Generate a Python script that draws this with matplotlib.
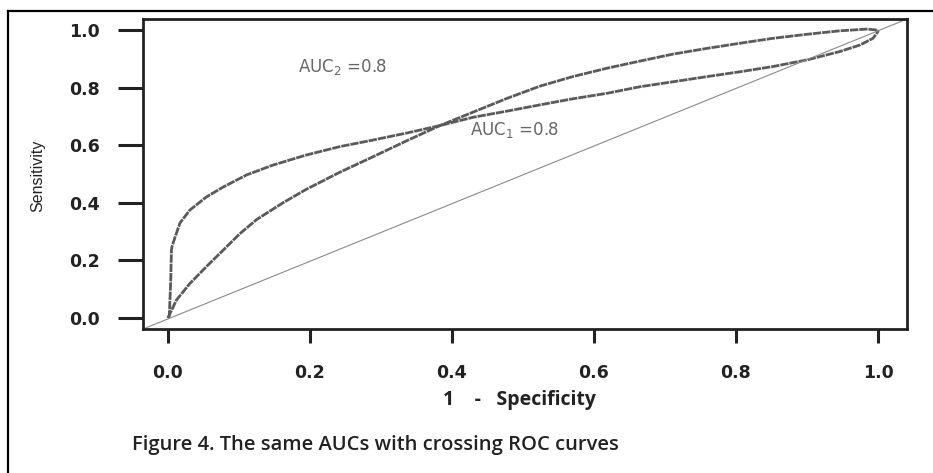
import numpy as np
import matplotlib
matplotlib.use("Agg")
import matplotlib.pyplot as plt
from matplotlib.lines import Line2D

plt.rcParams['mathtext.default'] = 'regular'

# ROC curve 1 (steep start, flatter later)
fpr1 = [0.0, 0.002, 0.004, 0.005, 0.006, 0.01, 0.017, 0.031, 0.054, 0.078, 0.111, 0.148,
        0.195, 0.242, 0.289, 0.336, 0.383, 0.407, 0.43, 0.477, 0.524, 0.570, 0.618,
        0.665, 0.711, 0.759, 0.806, 0.852, 0.900, 0.946, 0.975, 0.993, 1.0, 1.0]
tpr1 = [0.0, 0.007, 0.13, 0.236, 0.25, 0.28, 0.33, 0.375, 0.42, 0.455, 0.497, 0.531,
        0.566, 0.595, 0.618, 0.642, 0.668, 0.683, 0.697, 0.718, 0.740, 0.761, 0.780,
        0.803, 0.820, 0.838, 0.855, 0.873, 0.896, 0.925, 0.948, 0.971, 0.994, 1.0]

# ROC curve 2 (gradual start, higher later)
fpr2 = [0.0, 0.012, 0.031, 0.054, 0.078, 0.101, 0.125, 0.162, 0.195, 0.242, 0.289,
        0.336, 0.383, 0.43, 0.477, 0.524, 0.570, 0.618, 0.665, 0.711, 0.759, 0.806,
        0.852, 0.900, 0.946, 0.984, 0.998, 1.0]
tpr2 = [0.0, 0.0625, 0.12, 0.178, 0.236, 0.292, 0.342, 0.400, 0.447, 0.506, 0.56,
        0.615, 0.668, 0.715, 0.762, 0.805, 0.838, 0.867, 0.892, 0.916, 0.936, 0.954,
        0.971, 0.985, 0.997, 1.003, 1.0, 1.0]

ticks = [0.0, 0.2, 0.4, 0.6, 0.8, 1.0]
tick_labels = ['0.0', '0.2', '0.4', '0.6', '0.8', '1.0']

fig = plt.figure(figsize=(9.33, 4.73), dpi=100)
ax = fig.add_axes([0.1533, 0.3044, 0.8189, 0.6554])

curve_kw = dict(color='#5a5a5a', linewidth=2.0, linestyle=(0, (3.0, 0.35)))
ax.plot(fpr1, tpr1, **curve_kw)
ax.plot(fpr2, tpr2, **curve_kw)
ax.plot([0, 1], [0, 1], transform=ax.transAxes, color='#8a8a8a', linewidth=0.8)

ax.text(0.183, 0.87, 'AUC$_2$ =0.8', fontsize=12, color='#666666',
        family='DejaVu Sans', va='center', ha='left')
ax.text(0.425, 0.653, 'AUC$_1$ =0.8', fontsize=12, color='#666666',
        family='DejaVu Sans', va='center', ha='left')

ax.set_xlim(-0.035, 1.041)
ax.set_ylim(-0.038, 1.038)
ax.set_xticks(ticks)
ax.set_xticklabels(tick_labels)
ax.set_yticks(ticks)
ax.set_yticklabels(tick_labels)

for s in ax.spines.values():
    s.set_linewidth(2.0)
    s.set_color('#222222')

ax.tick_params(axis='y', direction='out', length=18, width=2.2, pad=13,
               colors='#222222', labelsize=12.5)
ax.tick_params(axis='x', direction='out', length=10, width=2.2, pad=15,
               colors='#222222', labelsize=12.5)
for lbl in ax.get_xticklabels() + ax.get_yticklabels():
    lbl.set_fontweight('bold')

fig.text(0.557, 0.154, '1    -   Specificity', fontsize=14, fontweight='bold',
         family='Open Sans', color='#222222', ha='center', va='center')
fig.text(0.040, 0.628, 'Sensitivity', fontsize=11.5, rotation=90,
         family=['Liberation Sans Narrow', 'Liberation Sans'], color='#222222',
         ha='center', va='center')
fig.text(0.1415, 0.059, 'Figure 4. The same AUCs with crossing ROC curves',
         fontsize=14.5, fontweight='semibold', family='Open Sans', color='#222222',
         ha='left', va='center')

# outer frame (left and top edges)
fig.add_artist(Line2D([0.0086, 0.0086], [0.0, 0.977], transform=fig.transFigure,
                      color='black', linewidth=1.6))
fig.add_artist(Line2D([0.0086, 1.0], [0.977, 0.977], transform=fig.transFigure,
                      color='black', linewidth=1.6))

fig.savefig('out.png', dpi=100)
